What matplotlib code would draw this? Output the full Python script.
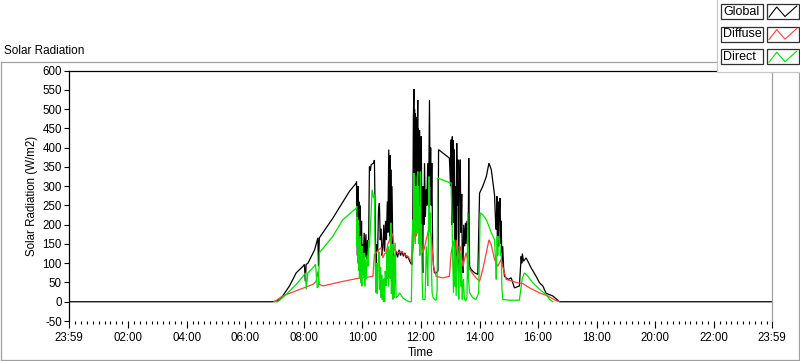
import numpy as np
import matplotlib
matplotlib.use("Agg")
import matplotlib.pyplot as plt
from matplotlib.patches import Rectangle
from matplotlib.lines import Line2D

W, H = 800, 361

# time of day in hours, axis runs from 23:59 (previous day) to 23:59
global_t = [-1/60, 6.94, 7.11, 7.28, 7.51, 7.74, 7.97, 8.02, 8.05, 8.08, 8.14, 8.37, 8.48, 8.50, 8.53,
            8.99, 9.56, 9.79,
            9.80, 9.81, 9.82, 9.83, 9.84, 9.85, 9.86, 9.87, 9.88, 9.89, 9.90, 9.91, 9.92, 9.93, 9.94,
            9.95, 9.97, 9.99, 10.01, 10.03, 10.06, 10.09, 10.12, 10.15, 10.18, 10.21,
            10.24, 10.27, 10.30, 10.38, 10.41, 10.44, 10.46, 10.49, 10.52, 10.55, 10.58, 10.61, 10.64,
            10.67, 10.70, 10.73, 10.76, 10.79, 10.82, 10.85, 10.87, 10.90, 10.92, 10.93, 10.94, 10.95,
            10.96, 10.97, 10.99, 11.01, 11.04,
            11.10, 11.15, 11.20, 11.25, 11.30, 11.35, 11.40, 11.45, 11.50, 11.55, 11.60, 11.65, 11.69,
            11.72, 11.74, 11.76, 11.77, 11.78, 11.79, 11.80, 11.81, 11.82, 11.83, 11.84, 11.85, 11.86,
            11.87, 11.88, 11.89, 11.90, 11.91, 11.92, 11.93, 11.94, 11.95, 11.96, 11.97, 11.98, 11.99,
            12.00, 12.01, 12.03, 12.04, 12.05, 12.06,
            12.08, 12.10, 12.12, 12.15, 12.18, 12.20, 12.23, 12.26, 12.29, 12.31, 12.33, 12.35, 12.37,
            12.40, 12.43, 12.46, 12.52, 12.58, 12.60, 12.97,
            13.01, 13.03, 13.05, 13.07, 13.09, 13.10, 13.11, 13.12, 13.14, 13.16, 13.18, 13.20, 13.22,
            13.24, 13.26, 13.27, 13.29, 13.31, 13.34, 13.36, 13.37, 13.39, 13.41, 13.43, 13.46, 13.49,
            13.52, 13.54, 13.57, 13.60, 13.62, 13.63, 13.65, 13.66, 13.71, 13.76, 13.83, 13.94, 14.00,
            14.11, 14.23, 14.32, 14.40, 14.51, 14.55, 14.57, 14.59, 14.61, 14.63, 14.65, 14.67, 14.70,
            14.72, 14.74, 14.76, 14.79, 14.82, 14.85, 14.97, 15.08, 15.19, 15.36, 15.42, 15.44, 15.46,
            15.50, 15.59, 15.76, 15.93, 16.05, 16.16, 16.27, 16.50, 16.73, 23 + 59/60]
global_v = [0, 0, 3, 15, 41, 75, 92, 97, 53, 97, 100, 135, 166, 92, 166,
            217, 287, 308,
            312, 150, 300, 120, 280, 170, 300, 140, 260, 110, 240, 130, 250, 110, 200,
            120, 210, 100, 150, 101, 179, 115, 175, 110, 160, 140,
            351, 340, 356, 360, 368, 200, 92, 150, 130, 240, 256, 160, 190,
            120, 140, 200, 130, 210, 160, 260, 180, 395, 200, 350, 170, 380,
            150, 343, 130, 300, 130,
            109, 130, 115, 135, 120, 131, 118, 127, 113, 118, 108, 100, 96,
            213, 480, 552, 300, 500, 250, 490, 220, 470, 213, 430, 260, 480,
            300, 470, 524, 330, 450, 300, 420, 280, 446, 250, 400, 220, 380,
            200, 430, 180, 300, 110, 75,
            300, 200, 360, 220, 291, 250, 360, 250, 524, 300, 400, 250, 360,
            127, 90, 75, 75, 80, 395, 373,
            300, 421, 200, 429, 300, 420, 205, 350, 395, 150, 300, 75, 412,
            250, 369, 180, 92, 300, 369, 200, 179, 280, 100, 75, 200, 144,
            205, 150, 210, 144, 250, 373, 150, 92, 84, 80, 75, 71, 282,
            300, 325, 360, 343, 278, 200, 187, 274, 170, 260, 144, 230, 269,
            150, 210, 92, 144, 90, 66, 58, 62, 36, 41, 118, 100, 125,
            105, 114, 88, 66, 49, 41, 22, 15, 0, 0]

diffuse_t = [7.00, 7.28, 7.86, 8.31, 8.42, 8.48, 8.53, 8.65, 9.22, 9.79, 10.36, 10.41, 10.47,
             10.55, 10.64, 10.70, 10.76, 10.81, 10.87, 10.93, 10.98, 11.04, 11.10, 11.21, 11.32,
             11.44, 11.55, 11.67, 11.72, 11.78, 11.80, 11.84, 11.89, 11.95, 12.01, 12.06, 12.12,
             12.18, 12.29, 12.35, 12.43, 12.52, 12.75, 12.97, 13.03, 13.11, 13.17, 13.20, 13.26,
             13.34, 13.43, 13.54, 13.66, 13.83, 14.00, 14.11, 14.23, 14.32, 14.40, 14.51, 14.62,
             14.74, 14.79, 14.91, 15.14, 15.31, 15.48, 15.71, 16.05, 16.33, 16.60, 16.73]
diffuse_v = [0, 15, 32, 45, 53, 79, 45, 41, 51, 60, 66, 123, 127,
             135, 140, 114, 125, 127, 150, 161, 183, 170, 135, 127, 131,
             123, 118, 105, 127, 180, 205, 170, 187, 196, 153, 127, 140,
             161, 196, 170, 92, 66, 62, 66, 127, 157, 120, 161, 110,
             144, 92, 127, 84, 66, 53, 84, 127, 161, 148, 110, 92,
             110, 92, 58, 53, 49, 47, 36, 23, 15, 3, 0]

direct_t = [6.98, 7.11, 7.40, 7.74, 7.97, 8.06, 8.08, 8.14, 8.31, 8.40, 8.46, 8.50, 8.53, 8.99,
            9.33, 9.79, 9.81,
            9.82, 9.83, 9.84, 9.85, 9.86, 9.87, 9.88, 9.89, 9.90, 9.91, 9.92, 9.93, 9.94, 9.96,
            9.98, 9.99, 10.01, 10.03, 10.04, 10.06, 10.08, 10.10, 10.13, 10.16, 10.19, 10.22, 10.24,
            10.28, 10.33, 10.38, 10.41, 10.43,
            10.45, 10.47, 10.49, 10.51, 10.53, 10.55, 10.58, 10.60, 10.62, 10.64, 10.66, 10.68, 10.70,
            10.72, 10.74, 10.76, 10.78, 10.81, 10.83, 10.85, 10.87, 10.89, 10.91, 10.93, 10.95, 10.97,
            10.99, 11.01, 11.02, 11.04, 11.07, 11.09, 11.12, 11.15, 11.21, 11.27, 11.38, 11.49, 11.60,
            11.67, 11.72,
            11.74, 11.76, 11.77, 11.78, 11.79, 11.80, 11.81, 11.82, 11.83, 11.84, 11.86, 11.87, 11.89,
            11.90, 11.91, 11.93, 11.95, 11.96, 11.98, 12.00, 12.02, 12.04, 12.06, 12.14, 12.16, 12.18,
            12.21, 12.23, 12.25, 12.27, 12.29, 12.31, 12.33, 12.35, 12.38, 12.42, 12.46, 12.52, 12.55,
            12.57, 13.03,
            13.05, 13.06, 13.08, 13.11, 13.13, 13.14, 13.16, 13.18, 13.20, 13.22, 13.24, 13.26, 13.28,
            13.29, 13.31, 13.34, 13.36, 13.38, 13.41, 13.43, 13.45, 13.48, 13.52, 13.57, 13.60, 13.62,
            13.66, 13.77, 13.88, 13.97, 14.02, 14.11, 14.23, 14.32, 14.40, 14.51, 14.55, 14.57, 14.60,
            14.62, 14.64, 14.68, 14.72, 14.74, 14.76, 14.79, 15.02, 15.36, 15.45, 15.53, 15.65, 15.82,
            16.05, 16.27, 16.39, 16.50]
direct_v = [0, 0, 19, 45, 66, 75, 32, 75, 88, 97, 36, 41, 127, 170,
            213, 243, 248,
            144, 220, 100, 213, 120, 200, 80, 161, 60, 150, 92, 170, 50, 144,
            40, 144, 70, 120, 66, 127, 40, 110, 58, 120, 92, 160, 144,
            200, 291, 270, 278, 150,
            50, 23, 100, 20, 58, 130, 127, 30, 90, 10, 70, 5, 58,
            0, 60, 0, 80, 41, 130, 60, 144, 40, 120, 135, 60, 205,
            20, 150, 58, 6, 120, 10, 153, 10, 15, 23, 10, 4, 0,
            0, 213,
            150, 334, 180, 280, 200, 248, 150, 300, 200, 291, 180, 320, 338,
            200, 300, 150, 231, 120, 338, 150, 200, 58, 6, 6, 80, 144,
            100, 41, 150, 325, 260, 180, 231, 100, 23, 10, 6, 4, 30,
            321, 308,
            250, 213, 120, 23, 100, 161, 40, 120, 15, 80, 140, 144, 30,
            6, 90, 127, 40, 100, 6, 40, 58, 10, 2, 10, 231, 60,
            23, 10, 6, 23, 231, 226, 213, 196, 179, 161, 100, 58, 170,
            120, 170, 161, 120, 127, 40, 6, 4, 4, 58, 75, 66, 49,
            32, 19, 6, 0]

x_ticks = [-1/60, 2, 4, 6, 8, 10, 12, 14, 16, 18, 20, 22, 23 + 59/60]
x_tick_labels = ["23:59", "02:00", "04:00", "06:00", "08:00", "10:00", "12:00",
                 "14:00", "16:00", "18:00", "20:00", "22:00", "23:59"]
y_ticks = list(range(-50, 601, 50))

series_names = ["Global", "Diffuse", "Direct"]
series_colors = ["black", "#ff4040", "#00e000"]

plt.rcParams['font.family'] = ['Liberation Sans', 'DejaVu Sans']
plt.rcParams['font.size'] = 8
plt.rcParams['axes.unicode_minus'] = False

fig = plt.figure(figsize=(W / 100, H / 100), dpi=100)
fig.patch.set_facecolor("white")


def fx(x):
    return x / W


def fy(y):
    return 1 - y / H


# plot area in pixel coords of the 800x361 picture
left, right, top, bottom = 69, 772, 70.7, 321
ax = fig.add_axes([fx(left), fy(bottom), (right - left) / W, (bottom - top) / H])

for t, v, c in zip([global_t, diffuse_t, direct_t], [global_v, diffuse_v, direct_v], series_colors):
    ax.plot(t, v, color=c, lw=0.9, solid_joinstyle="miter")

ax.set_xlim(x_ticks[0], x_ticks[-1])
ax.set_ylim(-50, 600)
ax.set_xticks(x_ticks)
ax.set_xticklabels(x_tick_labels)
minor = [m for m in np.arange(0.2, 24, 0.2) if abs(m / 2 - round(m / 2)) > 0.01]
ax.set_xticks(minor, minor=True)
ax.set_yticks(y_ticks)
ax.tick_params(axis="x", which="major", length=5, width=0.8, pad=3, labelsize=8.3)
ax.tick_params(axis="x", which="minor", length=2.5, width=0.8)
ax.tick_params(axis="y", which="major", length=3.6, width=0.8, pad=1.5, labelsize=8.3)
for s in ["top", "left"]:
    ax.spines[s].set_color("black")
    ax.spines[s].set_linewidth(0.9)
ax.spines["right"].set_color("#a0a0a0")
ax.spines["right"].set_linewidth(0.9)
ax.spines["bottom"].set_visible(False)

fig.text(fx(32.5), fy(196), "Solar Radiation (W/m2)", rotation=90, ha="center", va="center", fontsize=8.3)
fig.text(fx(420.5), fy(353.5), "Time", ha="center", va="center", fontsize=8.5)
fig.text(fx(4), fy(50.5), "Solar Radiation", ha="left", va="center", fontsize=8.5)

# outer gray frame of the chart
frame = "#a0a0a0"
for xs, ys in [([0.5, 717], [61.5, 61.5]), ([0.5, 0.5], [61.5, 359.5]),
               ([0.5, 799], [359.5, 359.5]), ([799, 799], [71.7, 359.5])]:
    fig.add_artist(Line2D([fx(x) for x in xs], [fy(y) for y in ys], color=frame, lw=0.9))

# legend panel (LabVIEW style)
fig.add_artist(Rectangle((fx(717.3), fy(71.7)), (800 - 717.3) / W, 71.7 / H,
                         transform=fig.transFigure, facecolor="white", edgecolor="none", zorder=5))
fig.add_artist(Line2D([fx(717.3), fx(717.3), fx(800)], [fy(0), fy(71.7), fy(71.7)],
                      color="#c8c8c8", lw=0.9, zorder=6))
for i, (name, c) in enumerate(zip(series_names, series_colors)):
    y0 = 4 + i * 22.6
    fig.add_artist(Rectangle((fx(721), fy(y0 + 15)), 42.3 / W, 15 / H, transform=fig.transFigure,
                             facecolor="white", edgecolor="#303030", lw=0.9, zorder=6))
    fig.add_artist(Rectangle((fx(767.3), fy(y0 + 15)), 31.7 / W, 15 / H, transform=fig.transFigure,
                             facecolor="white", edgecolor="#303030", lw=0.9, zorder=6))
    fig.text(fx(723), fy(y0 + 7.8), name, ha="left", va="center", fontsize=9, zorder=7)
    zx = [769, 776.7, 785, 796.7]
    zy = [y0 + 13, y0 + 3, y0 + 12.5, y0 + 2]
    fig.add_artist(Line2D([fx(x) for x in zx], [fy(y) for y in zy], color=c, lw=0.8, zorder=7))

fig.savefig("out.png", dpi=100, facecolor="white")
